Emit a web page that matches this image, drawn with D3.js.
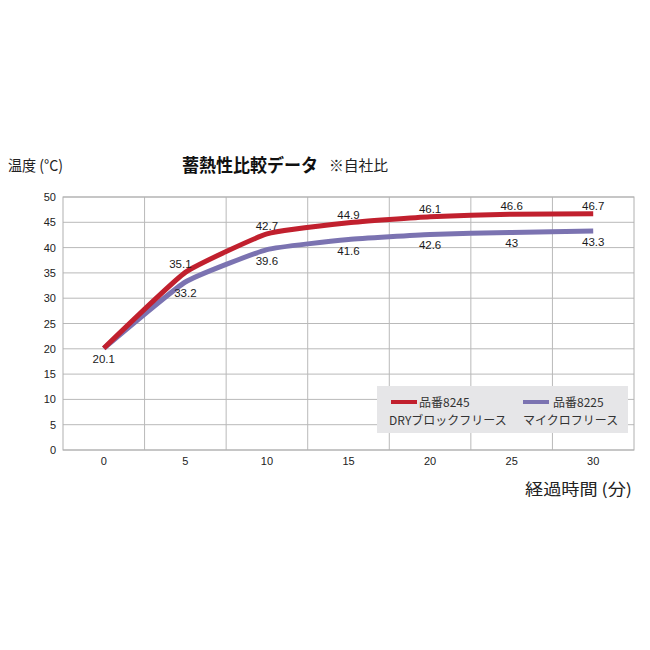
<!DOCTYPE html>
<html><head><meta charset="utf-8">
<script src="https://cdn.jsdelivr.net/npm/d3@7"></script>
<style>body{margin:0;background:#fff}svg{display:block}</style>
</head><body>
<svg id="c" width="650" height="650"></svg>
<script>
const minutes = [0, 5, 10, 15, 20, 25, 30];
const dry8245 = [20.1, 35.1, 42.7, 44.9, 46.1, 46.6, 46.7];
const micro8225 = [20.1, 33.2, 39.6, 41.6, 42.6, 43, 43.3];
const yTicks = [0, 5, 10, 15, 20, 25, 30, 35, 40, 45, 50];
const seriesNames = ["品番8245", "品番8225"];
const seriesSub = ["DRYブロックフリース", "マイクロフリース"];
const colors = ["#c1202e", "#7b73b1"];

const svg = d3.select("#c");
const font = "'Liberation Sans', Arial, 'Noto Sans CJK JP', sans-serif";
const jp = "'Noto Sans CJK JP', sans-serif";
const L = 63, R = 634, T = 197, B = 450;

const x = d3.scaleBand().domain(minutes).range([L, R]);
const y = d3.scaleLinear().domain([0, 50]).range([B, T]);

svg.append("g").selectAll("line").data(yTicks).join("line")
  .attr("x1", L).attr("x2", R).attr("y1", d => y(d)).attr("y2", d => y(d))
  .attr("stroke", "#b9b9b9").attr("stroke-width", 1);
svg.append("g").selectAll("line").data(minutes.slice(1)).join("line")
  .attr("x1", d => x(d)).attr("x2", d => x(d)).attr("y1", T).attr("y2", B)
  .attr("stroke", "#b9b9b9").attr("stroke-width", 1);
svg.append("rect").attr("x", L).attr("y", T).attr("width", R - L).attr("height", B - T)
  .attr("fill", "none").attr("stroke", "#b0b0b0").attr("stroke-width", 1);

svg.append("g").selectAll("text").data(yTicks).join("text")
  .attr("x", 56).attr("y", d => y(d) + 4).attr("text-anchor", "end")
  .attr("font-family", font).attr("font-size", 11).attr("fill", "#222").text(d => d);
svg.append("g").selectAll("text").data(minutes).join("text")
  .attr("x", d => x(d) + x.bandwidth() / 2).attr("y", 465).attr("text-anchor", "middle")
  .attr("font-family", font).attr("font-size", 11).attr("fill", "#222").text(d => d);

const cx = d => x(d) + x.bandwidth() / 2;

svg.append("rect").attr("x", 377).attr("y", 386).attr("width", 251).attr("height", 47).attr("fill", "#e6e6e8");

const line = d3.line().x((d, i) => cx(minutes[i])).y(d => y(d)).curve(d3.curveCardinal.tension(0.6));
[micro8225, dry8245].forEach((s, k) => {
  svg.append("path").attr("d", line(s)).attr("fill", "none")
    .attr("stroke", k === 0 ? colors[1] : colors[0]).attr("stroke-width", 5)
    .attr("stroke-linecap", "butt").attr("stroke-linejoin", "round");
});

svg.append("g").selectAll("text").data(dry8245.slice(1)).join("text")
  .attr("x", (d, i) => cx(minutes[i + 1]) - (i === 0 ? 5 : 0)).attr("y", d => y(d) - 4)
  .attr("text-anchor", "middle").attr("font-family", font).attr("font-size", 11.5).attr("fill", "#1a1a1a")
  .text(d => d);
svg.append("g").selectAll("text").data(micro8225).join("text")
  .attr("x", (d, i) => cx(minutes[i])).attr("y", d => y(d) + 15)
  .attr("text-anchor", "middle").attr("font-family", font).attr("font-size", 11.5).attr("fill", "#1a1a1a")
  .text(d => d);

const lg = [{x: 391, tx: 419, sx: 389}, {x: 523, tx: 553, sx: 523}];
lg.forEach((p, k) => {
  svg.append("line").attr("x1", p.x).attr("x2", p.x + 26).attr("y1", 402).attr("y2", 402)
    .attr("stroke", colors[k]).attr("stroke-width", 4);
  svg.append("text").attr("x", p.tx).attr("y", 406.5).attr("font-family", jp).attr("font-size", 12)
    .attr("fill", "#333").text(seriesNames[k]);
  svg.append("text").attr("x", p.sx).attr("y", 424.5).attr("font-family", jp).attr("font-size", 12)
    .attr("fill", "#333").text(seriesSub[k]);
});

svg.append("text").attr("x", 182).attr("y", 172).attr("font-family", jp).attr("font-weight", "bold")
  .attr("font-size", 18).attr("textLength", 136).attr("lengthAdjust", "spacingAndGlyphs")
  .attr("fill", "#111").text("蓄熱性比較データ");
svg.append("text").attr("x", 329).attr("y", 171).attr("font-family", jp)
  .attr("font-size", 15).attr("textLength", 59).attr("lengthAdjust", "spacingAndGlyphs")
  .attr("fill", "#222").text("※自社比");
svg.append("text").attr("x", 8).attr("y", 171).attr("font-family", jp)
  .attr("font-size", 15).attr("textLength", 55).attr("lengthAdjust", "spacingAndGlyphs")
  .attr("fill", "#222").text("温度 (°C)");
svg.append("text").attr("x", 525).attr("y", 495).attr("font-family", jp)
  .attr("font-size", 16).attr("textLength", 107).attr("lengthAdjust", "spacingAndGlyphs")
  .attr("fill", "#222").text("経過時間 (分)");
</script>
</body></html>
